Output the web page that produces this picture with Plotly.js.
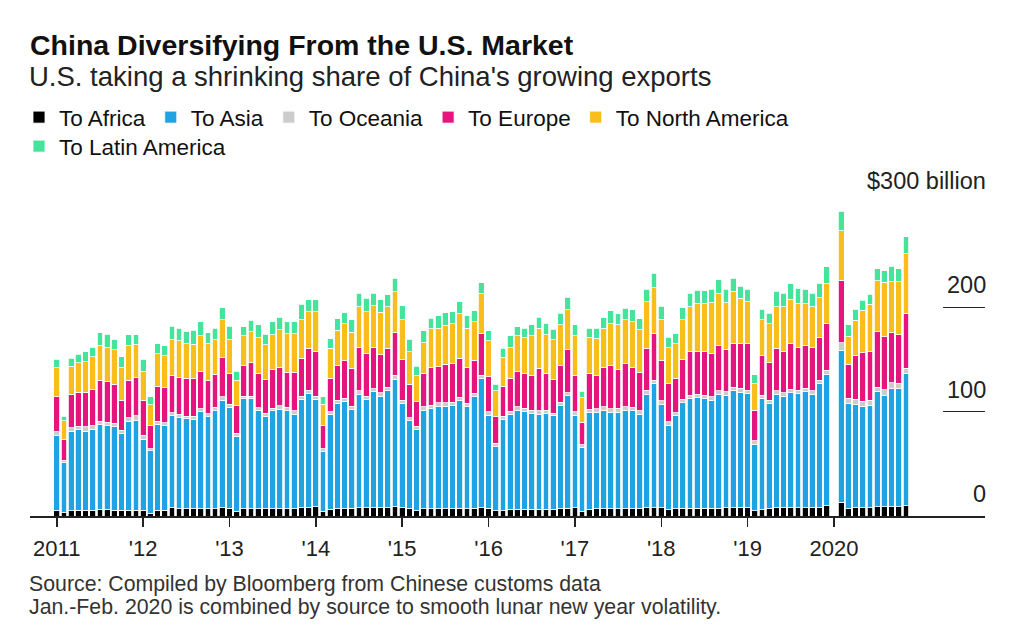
<!DOCTYPE html>
<html>
<head>
<meta charset="utf-8">
<script src="https://cdn.plot.ly/plotly-3.0.1.min.js"></script>
<style>html,body{margin:0;padding:0;background:#fff;}#chart{width:1024px;height:636px;}</style>
</head>
<body>
<div id="chart"></div>
<script>
// Monthly categories (Jan 2011 – Nov 2020); Jan 2020 is empty because Jan.-Feb. 2020 is combined
const months = [
  '2011-01','2011-02','2011-03','2011-04','2011-05','2011-06','2011-07','2011-08','2011-09','2011-10','2011-11','2011-12',
  '2012-01','2012-02','2012-03','2012-04','2012-05','2012-06','2012-07','2012-08','2012-09','2012-10','2012-11','2012-12',
  '2013-01','2013-02','2013-03','2013-04','2013-05','2013-06','2013-07','2013-08','2013-09','2013-10','2013-11','2013-12',
  '2014-01','2014-02','2014-03','2014-04','2014-05','2014-06','2014-07','2014-08','2014-09','2014-10','2014-11','2014-12',
  '2015-01','2015-02','2015-03','2015-04','2015-05','2015-06','2015-07','2015-08','2015-09','2015-10','2015-11','2015-12',
  '2016-01','2016-02','2016-03','2016-04','2016-05','2016-06','2016-07','2016-08','2016-09','2016-10','2016-11','2016-12',
  '2017-01','2017-02','2017-03','2017-04','2017-05','2017-06','2017-07','2017-08','2017-09','2017-10','2017-11','2017-12',
  '2018-01','2018-02','2018-03','2018-04','2018-05','2018-06','2018-07','2018-08','2018-09','2018-10','2018-11','2018-12',
  '2019-01','2019-02','2019-03','2019-04','2019-05','2019-06','2019-07','2019-08','2019-09','2019-10','2019-11','2019-12',
  '2020-01','2020-02','2020-03','2020-04','2020-05','2020-06','2020-07','2020-08','2020-09','2020-10','2020-11'
];

// Exports by destination, $ billion
const toAfrica = [
  5.5,3,5,5.5,5.5,5.5,6.5,6.5,5.5,5.5,5.5,5.5,
  5.5,2.5,5.5,5.5,8,7,7,7,7,7,7,8,
  7.5,4.5,7,7,7,7,7,7,7,7,8,8.5,
  9,4.5,6.5,7,7,7.5,8,8,8,8,8,9,
  8.5,7,5,7,7,7,7,7,7.5,7,7.5,8,
  7.5,5,5,6.5,6.5,6.5,6.5,6.5,6.5,6.5,7,7.5,
  8,4.5,6.5,7,7,7,7,7,7,7,8,8,
  8,6,7,7.5,7.5,7.5,7.5,7.5,7.5,8,8,8.5,
  8.5,5,6.5,7,8,8,8,8,8,8,8,10,
  null,13,7,8,8,8,9,9,9,9,10
];
const toAsia = [
  71.3,47.9,76.0,77.4,75.8,77.4,81.2,80.0,80.0,73.6,85.1,86.4,
  68.2,59.9,82.6,81.3,88.1,87.8,86.2,85.9,93.2,88.1,93.9,103.1,
  96.3,72.0,105.4,105.4,93.9,88.7,93.9,95.5,93.9,90.7,104.1,109.0,
  102.8,57.0,90.8,100.9,102.8,94.7,108.6,103.8,111.1,107.0,112.1,122.3,
  99.4,84.3,77.6,94.5,96.1,98.4,98.4,99.0,103.0,97.7,106.8,123.9,
  89.2,61.3,87.5,91.2,95.0,93.4,91.5,91.2,91.5,89.6,98.7,107.8,
  88.7,60.8,92.5,92.3,94.5,92.6,92.6,94.2,93.9,90.3,108.2,118.8,
  98.6,81.1,89.1,101.1,105.2,105.9,104.9,103.6,109.4,107.9,112.1,110.0,
  109.0,63.9,106.2,100.9,108.9,107.0,110.2,109.5,111.1,108.9,119.1,126.1,
  null,146.1,100.9,98.9,97.4,98.3,110.1,106.3,113.3,113.3,126.7
];
const toOceania = [
  3.8,2.6,3.8,3.2,4.2,3.5,3.2,3.2,3.2,3.2,3.8,4.2,
  3.8,2.2,2.9,2.6,2.9,2.6,2.6,2.6,2.6,2.9,3.2,3.2,
  3.5,2.6,2.6,2.6,2.9,2.6,2.6,3.2,3.2,3.2,2.9,3.2,
  3.2,3.2,2.6,3.2,3.2,2.9,3.5,3.2,2.9,3.2,3.2,3.8,
  3.2,2.9,3.2,3.2,3.2,3.2,3.2,3.2,3.5,3.2,3.2,3.2,
  3.2,3.2,2.9,2.9,3.2,3.2,3.2,3.2,3.2,2.6,3.2,2.9,
  3.2,2.9,3.5,3.5,3.2,3.2,3.5,3.5,3.2,3.5,4.2,3.5,
  3.8,3.2,2.9,3.2,3.2,3.2,3.5,3.2,3.2,3.2,3.2,3.8,
  3.2,3.2,3.2,3.2,3.2,3.2,3.2,3.2,3.2,3.2,3.2,3.8,
  null,7,5,5,4.5,4.5,4.5,5.5,5.5,5,5
];
const toEurope = [
  33.6,19.9,32.0,32.3,33.3,34.9,39.4,39.4,37.5,28.8,35.9,36.2,
  33.6,22.1,33.6,33.6,35.9,35.5,36.2,36.5,35.5,32.3,32.0,37.5,
  29.5,27.2,28.8,32.0,33.0,32.7,36.5,36.8,33.9,37.1,36.2,40.0,
  42.6,22.4,32.0,32.7,35.9,36.5,41.6,41.0,39.7,36.2,37.5,40.7,
  39.1,32.3,23.7,32.0,36.2,34.6,36.8,36.5,37.1,34.6,32.0,40.3,
  33.6,25.6,28.8,31.4,33.6,33.6,33.9,40.7,35.5,32.3,34.9,41.0,
  35.2,21.5,34.3,32.3,37.8,41.0,37.1,41.0,38.7,36.8,40.3,44.2,
  38.4,36.5,33.0,38.4,41.6,41.0,41.6,41.6,43.2,40.7,41.6,42.6,
  44.2,29.5,37.5,35.9,40.7,39.4,43.6,41.0,41.6,41.6,41.0,44.8,
  null,59.9,32.7,42.3,46.4,46.4,52.8,50.9,48.0,46.4,52.5
];
const toNorthAmerica = [
  28.2,17.9,26.9,28.5,29.1,31.4,33.3,32.7,33.0,31.4,33.6,31.7,
  27.5,19.9,30.7,30.4,34.6,35.2,33.6,32.7,34.3,35.2,32.7,36.2,
  32.7,24.0,28.8,29.8,34.6,33.0,33.6,35.9,36.5,36.5,37.5,35.2,
  38.4,20.2,28.8,34.3,35.2,34.6,38.8,40.0,40.0,40.7,40.0,39.1,
  38.1,31.1,25.6,29.5,36.8,36.8,37.5,38.8,43.2,37.5,36.8,38.1,
  34.6,25.0,27.9,29.8,34.3,34.6,37.8,38.4,37.1,37.8,39.7,38.4,
  37.5,24.0,34.3,35.2,37.5,40.7,42.9,42.3,43.6,41.6,44.8,44.2,
  39.7,34.9,33.6,37.8,43.2,46.4,46.4,48.7,50.3,44.8,50.3,43.9,
  40.7,25.6,34.6,37.1,40.0,43.2,42.9,42.3,39.4,39.1,38.4,38.4,
  null,47.4,26.6,33.6,41.0,45.8,49.0,52.2,49.0,50.6,57.6
];
const toLatinAmerica = [
  7.7,4.5,7.7,8.3,9.3,9.0,12.2,12.2,10.2,10.2,9.9,9.9,
  11.5,7.7,9.6,9.6,12.2,11.8,11.5,13.4,13.4,10.2,11.2,11.5,
  12.2,8.6,9.0,10.6,11.8,10.2,12.5,12.2,11.5,11.5,14.4,11.2,
  11.2,7.0,9.0,11.2,10.9,11.8,13.1,12.8,11.8,12.2,11.2,13.1,
  13.1,11.8,8.6,11.2,10.2,11.8,11.8,11.5,11.2,11.8,10.6,10.2,
  9.3,6.4,8.6,10.9,9.0,8.6,10.2,10.6,10.9,10.2,10.9,12.2,
  10.6,5.8,9.0,9.6,10.2,12.2,10.6,11.2,11.2,9.9,11.8,14.1,
  12.5,9.6,9.0,11.8,12.8,12.2,12.2,12.8,12.8,12.8,12.8,11.2,
  11.8,8.0,10.2,10.2,14.4,12.8,14.7,14.4,14.1,12.8,13.4,16.0,
  null,18.6,11.2,10.6,9.6,9.6,11.8,11.2,14.4,12.8,16.0
];

const seriesNames = ['To Africa','To Asia','To Oceania','To Europe','To North America','To Latin America'];
const seriesValues = [toAfrica, toAsia, toOceania, toEurope, toNorthAmerica, toLatinAmerica];
const seriesColors = ['#000000','#1fa3e3','#cccccc','#e6157d','#f9bd1c','#44e49a'];
const seriesLegend = ['legend','legend','legend','legend','legend','legend2'];

const xTickVals = ['2011-01','2012-01','2013-01','2014-01','2015-01','2016-01','2017-01','2018-01','2019-01','2020-01'];
const xTickText = ['2011',"'12","'13","'14","'15","'16","'17","'18","'19",'2020'];
const yTickVals = [0, 100, 200, 300];
const yTickText = ['0', '100', '200', '$300 billion'];

const FONT = 'Liberation Sans, Arial, Helvetica, sans-serif';

const traces = seriesNames.map((name, k) => ({
  type: 'bar',
  name: name,
  legend: seriesLegend[k],
  x: months,
  y: seriesValues[k],
  marker: {color: seriesColors[k], line: {color: '#ffffff', width: 0.8}},
  hoverinfo: 'skip'
}));

const annotations = [
  {text: "U.S. taking a shrinking share of China's growing exports", xref: 'paper', yref: 'paper',
   x: 0, y: 1.4026, xanchor: 'left', yanchor: 'middle', xshift: -3, showarrow: false,
   font: {family: FONT, size: 27.5, color: '#222'}},
  {text: 'Source: Compiled by Bloomberg from Chinese customs data', xref: 'paper', yref: 'paper',
   x: 0, y: -0.2173, xanchor: 'left', yanchor: 'middle', xshift: -3, showarrow: false,
   font: {family: FONT, size: 21.3, color: '#333'}},
  {text: 'Jan.-Feb. 2020 is combined by source to smooth lunar new year volatility.', xref: 'paper', yref: 'paper',
   x: 0, y: -0.2907, xanchor: 'left', yanchor: 'middle', xshift: -3, showarrow: false,
   font: {family: FONT, size: 21.3, color: '#333'}}
];
yTickVals.forEach((v, i) => {
  annotations.push({text: yTickText[i], xref: 'paper', yref: 'y', x: 1, y: v,
    xanchor: 'right', yanchor: 'bottom', yshift: 7, xshift: 3, showarrow: false,
    font: {family: FONT, size: 23.5, color: '#222'}});
});

const legendBase = {
  orientation: 'h', traceorder: 'normal',
  xref: 'container', yref: 'container',
  x: 19 / 1024, xanchor: 'left', yanchor: 'top',
  font: {family: FONT, size: 22.5, color: '#111'},
  bgcolor: 'rgba(0,0,0,0)', borderwidth: 0
};

const layout = {
  width: 1024, height: 636,
  margin: {l: 30, r: 39, t: 203, b: 120, pad: 0},
  paper_bgcolor: '#ffffff', plot_bgcolor: '#ffffff',
  font: {family: FONT, color: '#222'},
  barmode: 'stack',
  bargap: 0.2,
  title: {
    text: '<b>China Diversifying From the U.S. Market</b>',
    font: {family: FONT, size: 28.5, color: '#111'},
    xref: 'container', x: 30 / 1024, xanchor: 'left',
    yref: 'container', y: 1 - 45 / 636, yanchor: 'middle'
  },
  showlegend: true,
  legend: Object.assign({}, legendBase, {y: 1 - 96 / 636}),
  legend2: Object.assign({}, legendBase, {y: 1 - 125 / 636}),
  xaxis: {
    type: 'category', categoryorder: 'array', categoryarray: months,
    range: [-3.72, 128.99],
    tickmode: 'array', tickvals: xTickVals, ticktext: xTickText,
    ticks: 'outside', ticklen: 9, tickwidth: 1.5, tickcolor: '#222',
    showline: true, linecolor: '#222', linewidth: 1.5,
    showgrid: false, zeroline: false,
    tickfont: {family: FONT, size: 22, color: '#222'},
    ticklabelstandoff: 3,
    fixedrange: true
  },
  yaxis: {
    range: [0, 300], side: 'right',
    tickmode: 'array', tickvals: [100, 200, 300],
    ticks: 'inside', ticklen: 42, tickwidth: 1.5, tickcolor: '#222',
    showticklabels: false, showgrid: false, zeroline: false, showline: false,
    fixedrange: true
  },
  annotations: annotations
};

Plotly.newPlot('chart', traces, layout, {staticPlot: true, displayModeBar: false});
</script>
</body>
</html>
